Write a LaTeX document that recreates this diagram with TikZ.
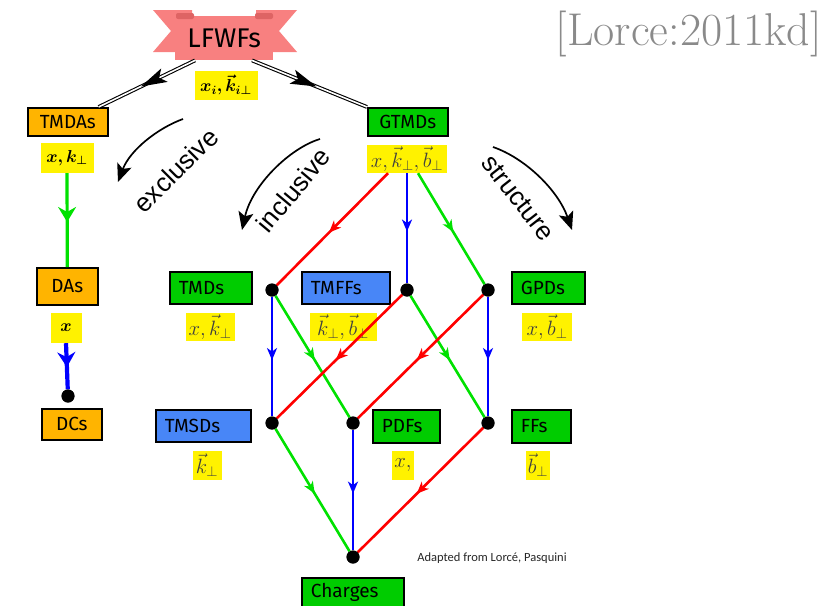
\documentclass[tikz,border=0pt]{standalone}
\usepackage{amsmath,bm}
\usepackage{fontspec}
\newfontfamily\boxfont{Fira Sans}
\newfontfamily\arcfont{Liberation Sans}
\newfontfamily\notefont{Carlito}
\usetikzlibrary{arrows.meta,decorations.markings,calc}
\definecolor{cgreen}{RGB}{0,204,0}
\definecolor{corange}{RGB}{255,180,0}
\definecolor{cblue}{RGB}{72,134,247}
\definecolor{cpink}{RGB}{248,128,128}
\definecolor{cpinkd}{RGB}{222,100,100}
\definecolor{lgreen}{RGB}{0,225,0}
\definecolor{lred}{RGB}{255,0,0}
\definecolor{lblue}{RGB}{0,0,255}
\definecolor{ttlgray}{RGB}{138,138,138}
\tikzset{
  bx/.style={draw=black, line width=1.6pt, font=\boxfont\fontsize{19}{22}\selectfont, inner sep=0pt, anchor=north west},
  lbx/.style={bx, align=left, inner xsep=9pt},
  lowlab/.style={fill=yellow, inner sep=0pt, font=\fontsize{20}{24}\selectfont, text=black!75},
  uplab/.style={fill=yellow, inner sep=0pt, font=\fontsize{18}{22}\selectfont},
  dotnode/.style={circle, fill=black, inner sep=0pt, minimum size=13pt},
  lat/.style={line width=2.6pt, postaction={decorate}, decoration={markings, mark=at position 0.53 with {\arrow{Stealth[length=12pt,width=10pt,inset=3.5pt]}}}},
  bigarr/.style={postaction={decorate}, decoration={markings, mark=at position 0.52 with {\arrow{Stealth[length=15pt,width=18pt,inset=5pt]}}}},
  dbl/.style={draw=black, double=white, line width=1.1pt, double distance=1.6pt},
  dblhead/.style={decoration={markings, mark=at position 0.56 with {\fill[black] (0pt,0pt) -- (-26pt,7.5pt) -- (-20pt,0pt) -- (-26pt,-7.5pt) -- cycle;}}, decorate},
  arcarrow/.style={line width=1.7pt, -{Stealth[length=18pt,width=15pt,inset=4pt]}},
  arctext/.style={font=\arcfont\fontsize{26}{30}\selectfont}
}
\begin{document}
\begin{tikzpicture}[x=1pt,y=-1pt]
\useasboundingbox (0,0) rectangle (827,605);

% title and note
\node[anchor=base east, text=ttlgray, font=\fontsize{46}{52}\selectfont, inner sep=0pt] (title) at (822,45) {[Lorce:2011kd]};
\node[font=\notefont\fontsize{12.5}{14}\selectfont, text=black!85, inner sep=0pt] (note) at (492,558) {Adapted from Lorcé, Pasquini};

% banner
\fill[cpink] (153,10) -- (192,10) -- (192,52) -- (153,52) -- (171,31) -- cycle;
\fill[cpink] (297,10) -- (256,10) -- (256,52) -- (297,52) -- (279,31) -- cycle;
\node[fill=cpink, minimum width=98pt, minimum height=44pt, anchor=north west, inner sep=0pt, font=\boxfont\fontsize{27}{31}\selectfont] (lf) at (175,16) {LFWFs};
\fill[cpinkd, rounded corners=2pt] (176,13) rectangle (194,19);
\fill[cpinkd, rounded corners=2pt] (255,13) rectangle (273,19);
\node[uplab, minimum width=63pt, minimum height=29pt] (lfl) at (226,85) {$\boldsymbol{x_i,\vec{k}_{i\perp}}$};

% boxes
\node[bx, fill=corange, minimum width=80pt, minimum height=28pt] (tmda) at (27,107) {TMDAs};
\node[bx, fill=cgreen, minimum width=80pt, minimum height=28pt] (gtmd) at (367,107) {GTMDs};
\node[bx, fill=corange, minimum width=61pt, minimum height=37pt] (da) at (36,267) {DAs};
\node[bx, fill=corange, minimum width=60pt, minimum height=31pt] (dc) at (41,408) {DCs};
\node[lbx, fill=cgreen, text width=64pt, minimum height=32pt] (tmd) at (169,271) {TMDs};
\node[lbx, fill=cblue, text width=70pt, minimum height=32pt] (tmff) at (301,271) {TMFFs};
\node[lbx, fill=cgreen, text width=55pt, minimum height=32pt] (gpd) at (511,271) {GPDs};
\node[lbx, fill=cblue, text width=77pt, minimum height=32pt] (tmsd) at (155,409) {TMSDs};
\node[lbx, fill=cgreen, text width=49pt, minimum height=33pt] (pdf) at (372,409) {PDFs};
\node[lbx, fill=cgreen, text width=41pt, minimum height=33pt] (ff) at (511,409) {FFs};
\node[lbx, fill=cgreen, text width=84pt, minimum height=30pt] (chg) at (301,577) {Charges};

% labels
\node[uplab, minimum width=53pt, minimum height=30pt] (tmdal) at (67,158) {$\boldsymbol{x,k_\perp}$};
\node[uplab, minimum width=31pt, minimum height=30pt] (dal) at (66,328) {$\boldsymbol{x}$};
\node[lowlab, minimum width=80pt, minimum height=28pt] (gtmdl) at (407,159) {$x,\vec{k}_\perp,\vec{b}_\perp$};
\node[lowlab, minimum width=49pt, minimum height=28pt] (tmdl) at (210,327) {$x,\vec{k}_\perp$};
\node[lowlab, minimum width=67pt, minimum height=28pt] (tmffl) at (343,327) {$\vec{k}_\perp,\vec{b}_\perp$};
\node[lowlab, minimum width=50pt, minimum height=28pt] (gpdl) at (547,327) {$x,\vec{b}_\perp$};
\node[lowlab, minimum width=29pt, minimum height=29pt] (tmsdl) at (207,465) {$\vec{k}_\perp$};
\node[lowlab, minimum width=22pt, minimum height=29pt] (pdfl) at (403,465) {$x,$};
\node[lowlab, minimum width=24pt, minimum height=29pt] (ffl) at (538,465) {$\vec{b}_\perp$};

% dots
\node[dotnode] (A) at (272,290) {};
\node[dotnode] (B) at (407,290) {};
\node[dotnode] (C) at (488,290) {};
\node[dotnode] (D) at (272,423) {};
\node[dotnode] (E) at (353,423) {};
\node[dotnode] (F) at (488,423) {};
\node[dotnode] (G) at (353,557) {};
\node[dotnode] (H) at (68,396) {};

% double arrows from LFWFs
\draw[dbl] ([xshift=20pt]lf.south west) -- ([xshift=-10pt]tmda.north east);
\path[dblhead] ([xshift=20pt]lf.south west) -- ([xshift=-10pt]tmda.north east);
\draw[dbl] ([xshift=77pt]lf.south west) -- (gtmd.north west);
\path[dblhead] ([xshift=77pt]lf.south west) -- (gtmd.north west);

% left column
\draw[lgreen, line width=3.2pt, bigarr] (tmdal.south) -- (da.north);
\draw[lblue, line width=4.2pt, bigarr] (dal.south) -- (H);

% lattice
\draw[lred, lat] ([xshift=-19pt]gtmdl.south) -- (A);
\draw[lblue, lat] (gtmdl.south) -- (B);
\draw[lgreen, lat] ([xshift=11pt]gtmdl.south) -- (C);
\draw[lblue, lat] (A) -- (D);
\draw[lgreen, lat] (A) -- (E);
\draw[lred, lat] (B) -- (D);
\draw[lgreen, lat] (B) -- (F);
\draw[lred, lat] (C) -- (E);
\draw[lblue, lat] (C) -- (F);
\draw[lgreen, lat] (D) -- (G);
\draw[lblue, lat] (E) -- (G);
\draw[lred, lat] (F) -- (G);
\node[dotnode] at (A) {};
\node[dotnode] at (B) {};
\node[dotnode] at (C) {};
\node[dotnode] at (D) {};
\node[dotnode] at (E) {};
\node[dotnode] at (F) {};
\node[dotnode] at (G) {};
\node[dotnode] at (H) {};

% curved arrows and their words
\coordinate (exs) at (183,119);
\coordinate (exe) at (118,182);
\draw[arcarrow] (exs) .. controls (158,128) and (130,150) .. (exe);
\node[arctext, rotate=45] (exc) at (176,170) {exclusive};
\coordinate (ins) at (320,139);
\coordinate (ine) at (242,230);
\draw[arcarrow] (ins) .. controls (290,148) and (252,185) .. (ine);
\node[arctext, rotate=50] (inc) at (293,190) {inclusive};
\coordinate (sts) at (493,147);
\coordinate (ste) at (572,230);
\draw[arcarrow] (sts) .. controls (525,158) and (558,190) .. (ste);
\node[arctext, rotate=-52] (str) at (518,198) {structure};
\end{tikzpicture}
\end{document}
